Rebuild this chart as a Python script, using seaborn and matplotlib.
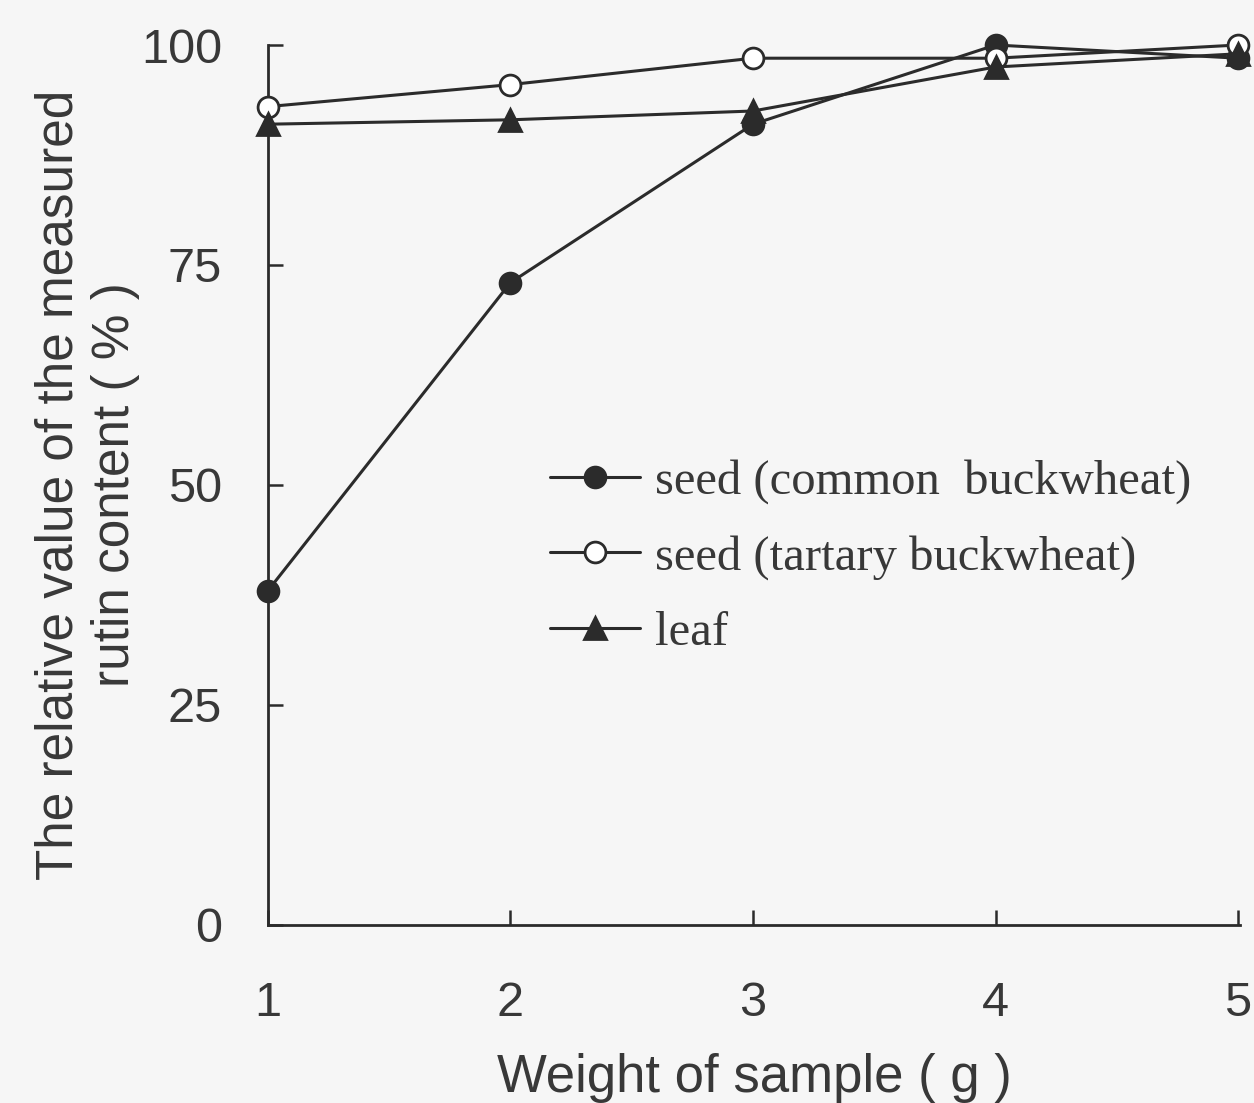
import matplotlib
matplotlib.use("Agg")
import matplotlib.pyplot as plt
import seaborn as sns
import pandas as pd

weights = [1, 2, 3, 4, 5]
common = [38, 73, 91, 100, 98.5]
tartary = [93, 95.5, 98.5, 98.5, 100]
leaf = [91, 91.5, 92.5, 97.5, 99]
labels = ["seed (common  buckwheat)", "seed (tartary buckwheat)", "leaf"]
yticks = [0, 25, 50, 75, 100]

sns.set_theme(style="ticks")
plt.rcParams["font.family"] = ["Liberation Sans", "DejaVu Sans"]

ink = "#2b2b2b"
txt = "#383838"
bg = "#f6f6f6"
fig = plt.figure(figsize=(12.54, 11.03), dpi=100, facecolor=bg)
ax = fig.add_axes([0.2137, 0.1614, 0.7755, 0.7978], facecolor=bg)

series = [
    (common, labels[0], "o", ink, 15),
    (tartary, labels[1], "o", "white", 15),
    (leaf, labels[2], "^", ink, 16),
]
for vals, lab, mk, fc, ms in series:
    df = pd.DataFrame({"w": weights, "v": vals})
    sns.lineplot(data=df, x="w", y="v", ax=ax, color=ink, lw=2.2,
                 marker=mk, markersize=ms, markerfacecolor=fc,
                 markeredgecolor=ink, markeredgewidth=2, label=lab,
                 clip_on=False, zorder=3)

ax.set_xlim(1, 5.01)
ax.set_ylim(0, 100)
ax.set_xticks(weights)
ax.set_yticks(yticks)
ax.tick_params(direction="in", length=11, width=1.8, colors=ink,
               labelsize=35, labelcolor=txt)
ax.tick_params(axis="x", pad=40)
ax.tick_params(axis="y", pad=33)
for s in ["top", "right"]:
    ax.spines[s].set_visible(False)
for s in ["left", "bottom"]:
    ax.spines[s].set_color(ink)
    ax.spines[s].set_linewidth(2)

ax.set_xlabel("Weight of sample ( g )", fontsize=38, color=txt)
ax.xaxis.set_label_coords(0.5, -0.146)
ax.set_ylabel("The relative value of the measured\nrutin content ( % )",
              fontsize=37, color=txt, linespacing=1.2)
ax.yaxis.set_label_coords(-0.132, 0.5)

leg = ax.legend(loc="upper left", bbox_to_anchor=(0.29, 0.529), frameon=False,
                prop={"family": ["Liberation Serif"], "size": 35},
                handlelength=1.85, handletextpad=0.3, labelspacing=0.63,
                borderaxespad=0, borderpad=0)
for t in leg.get_texts():
    t.set_color(txt)

fig.savefig("out.png", dpi=100, facecolor=bg)
